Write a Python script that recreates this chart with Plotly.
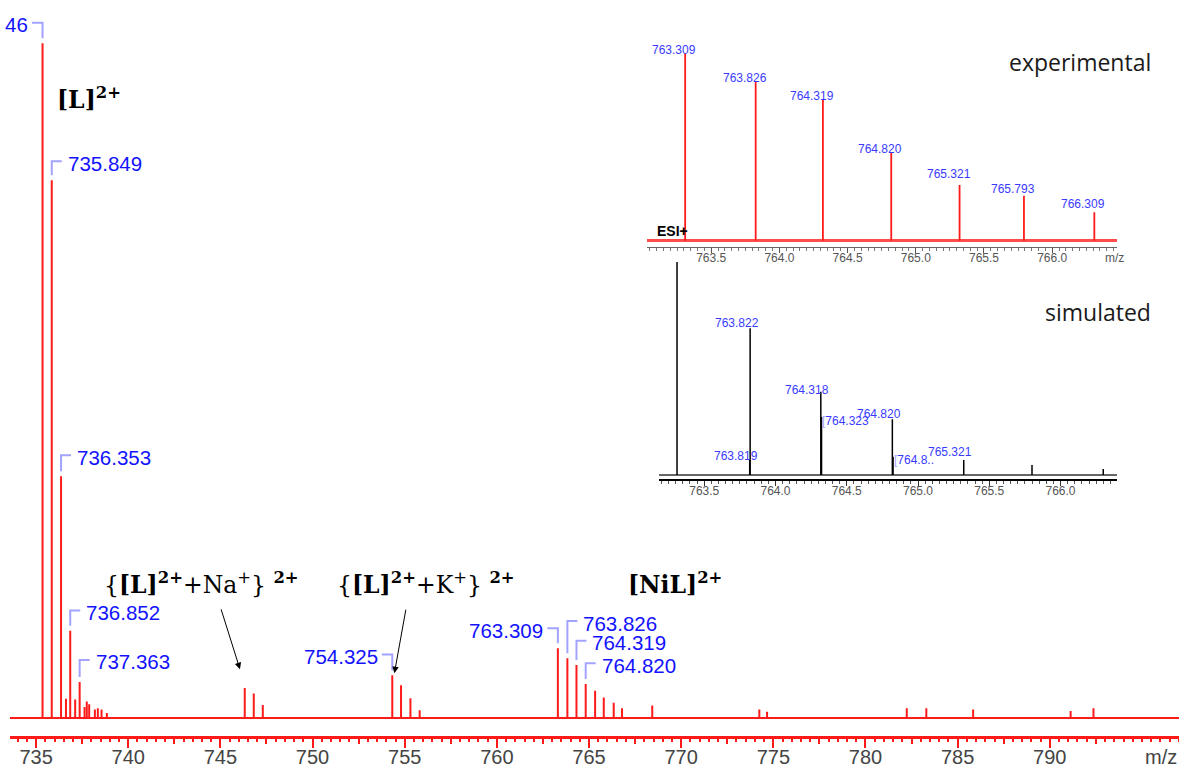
import plotly.graph_objects as go

W, H = 1179, 767

# ---------------- data ----------------
main_mz = [735.35, 735.849, 736.353, 736.62, 736.852, 737.12, 737.363, 737.63, 737.75, 737.88,
           738.19, 738.35, 738.55, 738.84, 746.32, 746.81, 747.30, 754.325, 754.80, 755.31, 755.81,
           763.309, 763.826, 764.319, 764.820, 765.33, 765.80, 766.34, 766.79, 768.43,
           774.24, 774.66, 782.24, 783.30, 785.84, 791.13, 792.37]
main_int = [100, 79.7, 35.8, 2.8, 12.9, 2.7, 5.3, 1.6, 2.4, 2.0,
            1.2, 1.4, 1.2, 0.7, 4.4, 3.6, 1.9, 6.3, 4.8, 2.9, 1.1,
            10.3, 8.8, 7.8, 5.0, 4.0, 3.0, 2.2, 1.4, 1.8,
            1.2, 0.9, 1.4, 1.4, 1.2, 1.0, 1.4]
main_ticks = [735, 740, 745, 750, 755, 760, 765, 770, 775, 780, 785, 790]

main_label_mz = [735.35, 735.849, 736.353, 736.852, 737.363, 754.325, 763.309, 763.826, 764.319, 764.820]
main_label_text = ["46", "735.849", "736.353", "736.852", "737.363", "754.325", "763.309", "763.826", "764.319", "764.820"]

exp_mz = [763.309, 763.826, 764.319, 764.820, 765.321, 765.793, 766.309]
exp_int = [100, 85.2, 75.5, 47.0, 29.7, 24.0, 15.2]
exp_label_text = ["763.309", "763.826", "764.319", "764.820", "765.321", "765.793", "766.309"]

sim_mz = [763.309, 763.819, 763.822, 764.318, 764.323, 764.820, 764.825, 765.321, 765.80, 766.30]
sim_int = [100, 6.4, 62.7, 35.6, 24.8, 23.8, 7.8, 6.4, 4.3, 2.6]
sim_center_label_mz = [763.822, 763.819, 764.318, 764.820, 765.321]
sim_center_label_text = ["763.822", "763.819", "764.318", "764.820", "765.321"]
sim_left_label_mz = [764.323, 764.825]
sim_left_label_text = ["764.323", "764.8.."]
inset_ticks = [763.5, 764.0, 764.5, 765.0, 765.5, 766.0]

# ---------------- layout geometry (pixels) ----------------
main_box = dict(l=10, r=1179, t=0, b=735.7)
main_xr = [733.584, 797.01]
main_yr = [-2.669, 106.42]
exp_box = dict(l=646.7, r=1116.7, t=45, b=246.7)
exp_xr = [763.0271, 766.473]
exp_yr = [-3.2, 104.43]
sim_box = dict(l=659, r=1116.7, t=262, b=479)
sim_xr = [763.1825, 766.3944]
sim_yr = [-1.709, 91.03]

# per-label styling offsets (px)
main_label_side = ["left", "right", "right", "right", "right", "left", "left", "right", "right", "right"]
main_label_rise = [20.6, 19, 21, 20.3, 22, 20.7, 20, 37.3, 24.3, 20.7]
exp_label_lift = [3.3, 3.3, 3.6, 3.7, 11, 6.7, 8]
sim_center_lift = [5, 4, 1.7, 5, 8]
sim_left_drop = [3.7, 3.6]


def xdom(b):
    return [b["l"] / W, b["r"] / W]


def ydom(b):
    return [1 - b["b"] / H, 1 - b["t"] / H]


def sticks(xs, ys):
    X, Y = [], []
    for x, y in zip(xs, ys):
        X += [x, x, None]
        Y += [0, y, None]
    return X, Y


RED = "#ff1a1a"
BLUE = "#1212ff"
BLUE2 = "#3a3aff"
BRK = "#a3a3ff"
SANS = "Liberation Sans, Arial, sans-serif"
SERIF = "DejaVu Serif, serif"

fig = go.Figure()

mx, my = sticks(main_mz, main_int)
fig.add_trace(go.Scatter(x=mx, y=my, mode="lines", line=dict(color=RED, width=2),
                         xaxis="x", yaxis="y", hoverinfo="skip", showlegend=False))
# invisible trace so the overlay axis for medium ticks is drawn
fig.add_trace(go.Scatter(x=[main_mz[0]], y=[0], mode="markers", marker=dict(opacity=0),
                         xaxis="x2", yaxis="y", hoverinfo="skip", showlegend=False))

ex, ey = sticks(exp_mz, exp_int)
fig.add_trace(go.Scatter(x=ex, y=ey, mode="lines", line=dict(color=RED, width=1.8),
                         xaxis="x3", yaxis="y3", hoverinfo="skip", showlegend=False))
sx, sy = sticks(sim_mz, sim_int)
fig.add_trace(go.Scatter(x=sx, y=sy, mode="lines", line=dict(color="black", width=1.5),
                         xaxis="x4", yaxis="y4", hoverinfo="skip", showlegend=False))

# ---------- scale helpers ----------
kx = (main_box["r"] - main_box["l"]) / (main_xr[1] - main_xr[0])
ky = (main_box["b"] - main_box["t"]) / (main_yr[1] - main_yr[0])
main_lookup = dict(zip(main_mz, main_int))

shapes = []
annotations = []

for mz, txt, side, rise in zip(main_label_mz, main_label_text, main_label_side, main_label_rise):
    h = main_lookup[mz]
    ys = h + 5 / ky
    yc = h + rise / ky
    if side == "right":
        xe = mz + 10 / kx
        xanchor, xshift = "left", 14
    else:
        xe = mz - 10.5 / kx
        xanchor, xshift = "right", -12.5
    shapes.append(dict(type="path", xref="x", yref="y",
                       path=f"M {mz},{ys} L {mz},{yc} L {xe},{yc}",
                       line=dict(color=BRK, width=2)))
    annotations.append(dict(x=mz, y=h, xref="x", yref="y", text=txt, showarrow=False,
                            xanchor=xanchor, yanchor="middle", xshift=xshift, yshift=rise - 2,
                            font=dict(family=SANS, size=20.5, color=BLUE)))

exp_lookup = dict(zip(exp_mz, exp_int))
for mz, txt, lift in zip(exp_mz, exp_label_text, exp_label_lift):
    annotations.append(dict(x=mz, y=exp_lookup[mz], xref="x3", yref="y3", text=txt, showarrow=False,
                            xanchor="center", yanchor="middle", xshift=-11, yshift=lift,
                            font=dict(family=SANS, size=12, color=BLUE2)))

sim_lookup = dict(zip(sim_mz, sim_int))
for mz, txt, lift in zip(sim_center_label_mz, sim_center_label_text, sim_center_lift):
    annotations.append(dict(x=mz, y=sim_lookup[mz], xref="x4", yref="y4", text=txt, showarrow=False,
                            xanchor="center", yanchor="middle", xshift=-13.5, yshift=lift,
                            font=dict(family=SANS, size=12, color=BLUE2)))
for mz, txt, drop in zip(sim_left_label_mz, sim_left_label_text, sim_left_drop):
    annotations.append(dict(x=mz, y=sim_lookup[mz], xref="x4", yref="y4",
                            text=f"<span style='color:{BRK}'>[</span>{txt}", showarrow=False,
                            xanchor="left", yanchor="middle", xshift=-1.5, yshift=-drop,
                            font=dict(family=SANS, size=12, color=BLUE2)))


def paper(xpx, ypx):
    return xpx / W, 1 - ypx / H


def txt_ann(xpx, ypx, text, size, family, color="black", xanchor="left"):
    x, y = paper(xpx, ypx)
    return dict(x=x, y=y, xref="paper", yref="paper", text=text, showarrow=False,
                xanchor=xanchor, yanchor="middle", font=dict(family=family, size=size, color=color))


annotations += [
    txt_ann(55, 98, "<b>[L]<sup>2+</sup></b>", 23.5, SERIF),
    txt_ann(102, 583, "{<b>[L]<sup>2+</sup></b>+Na<sup>+</sup>} <b><sup>2+</sup></b>", 23.5, SERIF),
    txt_ann(335, 583, "{<b>[L]<sup>2+</sup></b>+K<sup>+</sup>} <b><sup>2+</sup></b>", 23.5, SERIF),
    txt_ann(626, 583, "<b>[NiL]<sup>2+</sup></b>", 23.5, SERIF),
    txt_ann(1161, 757, "m/z", 20, SANS, "#444444", "center"),
    txt_ann(1114, 258, "m/z", 12, SANS, "#555555", "center"),
    txt_ann(655, 231, "<b>ESI+</b>", 14, SANS),
    txt_ann(1153, 62, "experimental", 23, "Open Sans, sans-serif", "#1a1a1a", "right"),
    txt_ann(1153, 312, "simulated", 23, "Open Sans, sans-serif", "#1a1a1a", "right"),
]

# arrows (tips at the adduct peaks)
annotations.append(dict(x=746.06, y=7.2, xref="x", yref="y", ax=-19.3, ay=-61.3, axref="pixel", ayref="pixel",
                        text="", showarrow=True, arrowhead=2, arrowsize=1.3, arrowwidth=1, arrowcolor="black"))
annotations.append(dict(x=754.44, y=6.6, xref="x", yref="y", ax=11.7, ay=-65, axref="pixel", ayref="pixel",
                        text="", showarrow=True, arrowhead=2, arrowsize=1.3, arrowwidth=1, arrowcolor="black"))

fig.update_layout(
    width=W, height=H, autosize=False,
    margin=dict(l=0, r=0, t=0, b=0, pad=0, autoexpand=False),
    paper_bgcolor="white", plot_bgcolor="rgba(0,0,0,0)",
    showlegend=False,
    shapes=shapes, annotations=annotations,
    xaxis=dict(domain=xdom(main_box), range=main_xr, anchor="y", automargin=False,
               showline=True, linecolor=RED, linewidth=2.5, showgrid=False, zeroline=False,
               tickmode="array", tickvals=main_ticks, ticks="outside", ticklen=10, tickwidth=2,
               tickcolor=RED, tickfont=dict(family=SANS, size=20, color="#444444"),
               ticklabelstandoff=-8,
               minor=dict(dtick=0.5, tick0=735, ticks="outside", ticklen=4, tickwidth=1.5, tickcolor=RED)),
    xaxis2=dict(overlaying="x", anchor="y", range=main_xr, showgrid=False, zeroline=False, automargin=False,
                showline=False, tickmode="linear", tick0=737.5, dtick=5, ticks="outside", ticklen=7,
                tickwidth=2, tickcolor=RED, showticklabels=False),
    yaxis=dict(domain=ydom(main_box), range=main_yr, showgrid=False, showline=False, automargin=False,
               showticklabels=False, ticks="", zeroline=True, zerolinecolor=RED, zerolinewidth=2),
    xaxis3=dict(domain=xdom(exp_box), range=exp_xr, anchor="y3", automargin=False,
                showline=True, linecolor="#666666", linewidth=1, showgrid=False, zeroline=False,
                tickmode="array", tickvals=inset_ticks, ticktext=[f"{v:.1f}" for v in inset_ticks],
                ticks="outside", ticklen=5, tickwidth=1, tickcolor="#555555", ticklabelstandoff=-5,
                tickfont=dict(family=SANS, size=12, color="#555555"),
                minor=dict(dtick=0.05, tick0=763, ticks="outside", ticklen=3, tickwidth=1, tickcolor="#777777")),
    yaxis3=dict(domain=ydom(exp_box), range=exp_yr, anchor="x3", showgrid=False, showline=False, automargin=False,
                showticklabels=False, ticks="", zeroline=True, zerolinecolor="#ff4d4d", zerolinewidth=2.5),
    xaxis4=dict(domain=xdom(sim_box), range=sim_xr, anchor="y4", automargin=False,
                showline=True, linecolor="black", linewidth=1.5, showgrid=False, zeroline=False,
                tickmode="array", tickvals=inset_ticks, ticktext=[f"{v:.1f}" for v in inset_ticks],
                ticks="outside", ticklen=5, tickwidth=1, tickcolor="#333333", ticklabelstandoff=-5,
                tickfont=dict(family=SANS, size=12, color="#555555"),
                minor=dict(dtick=0.05, tick0=763, ticks="outside", ticklen=3, tickwidth=1, tickcolor="#555555")),
    yaxis4=dict(domain=ydom(sim_box), range=sim_yr, anchor="x4", showgrid=False, showline=False, automargin=False,
                showticklabels=False, ticks="", zeroline=True, zerolinecolor="#666666", zerolinewidth=2),
)

fig.write_html("out.html", config={"displayModeBar": False},
               post_script="document.body.style.margin='0';document.body.style.overflow='hidden';")
